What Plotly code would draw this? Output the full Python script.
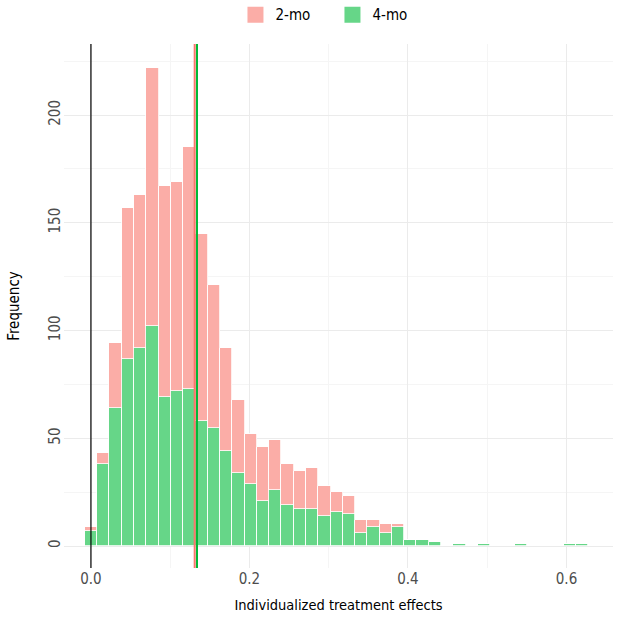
import plotly.graph_objects as go

# ---- data ----
bin_width = 0.0155
bin_index = list(range(41))
total_counts = [9, 43, 94, 157, 163, 222, 167, 169, 185, 145, 121, 92, 68, 52, 46, 49,
                38, 35, 36, 28, 25, 23, 12, 12, 10, 10, 3, 3, 2, 0, 1, 0, 1, 0, 0, 1,
                0, 0, 0, 1, 1]
counts_4mo = [7, 38, 64, 87, 92, 102, 69, 72, 73, 58, 55, 44, 34, 29, 21, 26,
              19, 17, 17, 14, 16, 15, 6, 9, 6, 9, 3, 3, 2, 0, 1, 0, 1, 0, 0, 1,
              0, 0, 0, 1, 1]
counts_2mo = [t - g for t, g in zip(total_counts, counts_4mo)]
bin_centers = [i * bin_width for i in bin_index]
mean_2mo = 0.1309
mean_4mo = 0.1338
series_names = ["2-mo", "4-mo"]
fill_2mo = "#FBADA7"
fill_4mo = "#66D688"
line_2mo = "#F8766D"
line_4mo = "#00BA38"

FONT = "DejaVu Sans Condensed, DejaVu Sans"

fig = go.Figure()
fig.add_trace(go.Bar(x=bin_centers, y=counts_4mo, width=bin_width, name=series_names[1],
                     marker=dict(color=fill_4mo, line=dict(color="white", width=0.8)),
                     showlegend=False))
fig.add_trace(go.Bar(x=bin_centers, y=counts_2mo, width=bin_width, name=series_names[0],
                     marker=dict(color=fill_2mo, line=dict(color="white", width=0.8)),
                     showlegend=False))
# legend entries
fig.add_trace(go.Scatter(x=[None], y=[None], mode="markers", name=series_names[0],
                         marker=dict(symbol="square", size=16, color=fill_2mo)))
fig.add_trace(go.Scatter(x=[None], y=[None], mode="markers", name=series_names[1],
                         marker=dict(symbol="square", size=16, color=fill_4mo)))

fig.add_vline(x=0, line=dict(color="black", width=1.2))
fig.add_vline(x=mean_2mo, line=dict(color=line_2mo, width=2))
fig.add_vline(x=mean_4mo, line=dict(color=line_4mo, width=2))

fig.update_layout(
    width=620, height=620,
    margin=dict(l=64, r=7, t=44, b=52, autoexpand=False),
    barmode="stack", bargap=0,
    plot_bgcolor="white", paper_bgcolor="white",
    font=dict(family=FONT, size=14, color="black"),
    legend=dict(orientation="h", traceorder="normal", x=0.489, xanchor="center",
                yref="container", y=0.976, yanchor="middle", entrywidth=52,
                font=dict(family=FONT, size=15, color="black"), itemwidth=30),
    xaxis=dict(range=[-0.034, 0.6587], tickmode="array", tickvals=[0, 0.2, 0.4, 0.6],
               ticktext=["0.0", "0.2", "0.4", "0.6"], showgrid=True, gridcolor="#EBEBEB",
               gridwidth=1, zeroline=False, showline=False, ticks="",
               tickfont=dict(family=FONT, size=15, color="#4D4D4D"),
               minor=dict(showgrid=True, dtick=0.1, tick0=0, gridcolor="#F5F5F5", gridwidth=0.6),
               title=dict(text="Individualized treatment effects", standoff=12,
                          font=dict(family=FONT, size=14.5, color="black"))),
    yaxis=dict(range=[-10.2, 233], tickmode="array", tickvals=[0, 50, 100, 150, 200],
               showgrid=True, gridcolor="#EBEBEB", gridwidth=1, zeroline=False,
               showline=False, ticks="", tickangle=-90,
               tickfont=dict(family=FONT, size=15, color="#4D4D4D"),
               minor=dict(showgrid=True, dtick=25, tick0=0, gridcolor="#F5F5F5", gridwidth=0.6),
               title=dict(text="Frequency", standoff=22,
                          font=dict(family=FONT, size=15, color="black"))),
)

fig.write_html("out.html")
